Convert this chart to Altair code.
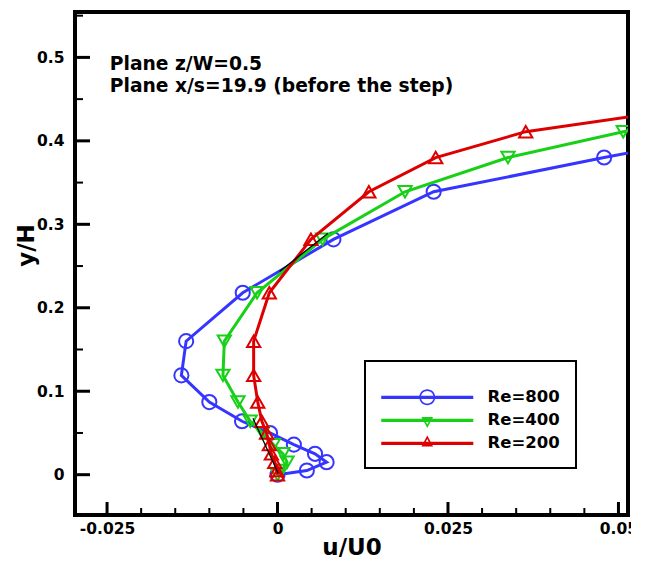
import altair as alt
import pandas as pd

# ---- profile data: u/U0 against y/H at the measurement stations ----
re800_u = [0.0, 0.0043, 0.0072, 0.0055, 0.0024, -0.0011, -0.0052, -0.0100, -0.0141,
           -0.0134, -0.0051, 0.0082, 0.0229, 0.0479, 0.0680]
re800_y = [0.0, 0.005, 0.015, 0.025, 0.036, 0.050, 0.064, 0.087, 0.119,
           0.160, 0.218, 0.282, 0.339, 0.380, 0.411]

re400_u = [0.0, 0.0006, 0.0014, 0.0008, -0.0006, -0.0022, -0.0040, -0.0058, -0.0080,
           -0.0078, -0.0030, 0.0066, 0.0187, 0.0338, 0.0507, 0.0690]
re400_y = [0.0, 0.005, 0.015, 0.025, 0.036, 0.050, 0.064, 0.087, 0.119,
           0.160, 0.218, 0.282, 0.339, 0.380, 0.411, 0.440]

re200_u = [0.0, -0.0001, -0.0004, -0.0009, -0.0012, -0.0016, -0.0023, -0.0029, -0.0035,
           -0.0035, -0.0012, 0.0049, 0.0134, 0.0232, 0.0364, 0.0613]
re200_y = [0.0, 0.005, 0.015, 0.025, 0.036, 0.050, 0.064, 0.087, 0.119,
           0.160, 0.218, 0.282, 0.339, 0.380, 0.411, 0.440]

# thin black trace segments
trace_u = [-0.0036, 0.0001, 0.0003, 0.0074]
trace_y = [0.0676, 0.0017, 0.2434, 0.2894]
trace_seg = [0, 0, 1, 1]

series_labels = ["Re=800", "Re=400", "Re=200"]
series_colors = ["#3535ff", "#17d017", "#dd0000"]
series_shapes = ["circle", "triangle-down", "triangle-up"]

# axis ticks
x_major = [-0.025, 0.0, 0.025, 0.05]
x_minor = [-0.02, -0.015, -0.01, -0.005, 0.005, 0.01, 0.015, 0.02,
           0.03, 0.035, 0.04, 0.045]
y_major = [0.0, 0.1, 0.2, 0.3, 0.4, 0.5]
y_minor = [0.05, 0.15, 0.25, 0.35, 0.45, 0.55]

note_lines = ["Plane z/W=0.5", "Plane x/s=19.9 (before the step)"]
note_u = [-0.0246, -0.0246]
note_y = [0.4844, 0.458]

FONT = "DejaVu Sans"
PLOT_W, PLOT_H = 553, 503

x_scale = alt.Scale(domain=[-0.0297, 0.0514], nice=False, zero=False)
y_scale = alt.Scale(domain=[-0.0483, 0.5544], nice=False, zero=False)

x_axis = alt.Axis(
    values=x_major, grid=False, ticks=False, domain=False,
    labelExpr="datum.value < 0 ? '-' + format(-datum.value, '~g') : format(datum.value, '~g')",
    labelFont=FONT, labelFontSize=15.5, labelFontWeight="bold", labelColor="black",
    labelPadding=6, labelFlush=False, labelOverlap=False,
    title="u/U0", titleFont=FONT, titleFontSize=23, titleFontWeight="bold",
    titleColor="black", titlePadding=0,
)
y_axis = alt.Axis(
    values=y_major, grid=False, ticks=False, domain=False,
    labelExpr="format(datum.value, '~g')",
    labelFont=FONT, labelFontSize=15.5, labelFontWeight="bold", labelColor="black",
    labelPadding=11, labelFlush=False, labelOverlap=False,
    title="y/H", titleFont=FONT, titleFontSize=23, titleFontWeight="bold",
    titleColor="black", titleX=-42, titleY=233, titleAngle=270,
    titleBaseline="alphabetic", titleAlign="center",
)

X = alt.X("u:Q", scale=x_scale, axis=x_axis)
Y = alt.Y("yh:Q", scale=y_scale, axis=y_axis)

series_u = [re800_u, re400_u, re200_u]
series_y = [re800_y, re400_y, re200_y]

frames = []
for lab, us, ys in zip(series_labels, series_u, series_y):
    frames.append(pd.DataFrame({"u": us, "yh": ys, "series": lab, "i": range(len(us))}))
profiles = pd.concat(frames, ignore_index=True)

layers = []

# inward tick marks along the bottom and left edges
xt = pd.DataFrame({"u": x_major})
xm = pd.DataFrame({"u": x_minor})
yt = pd.DataFrame({"yh": y_major})
ym = pd.DataFrame({"yh": y_minor})
layers.append(alt.Chart(xt).mark_rule(color="black", strokeWidth=3).encode(
    x=X, y=alt.value(PLOT_H), y2=alt.value(PLOT_H - 13)))
layers.append(alt.Chart(xm).mark_rule(color="black", strokeWidth=2).encode(
    x=X, y=alt.value(PLOT_H), y2=alt.value(PLOT_H - 7)))
layers.append(alt.Chart(yt).mark_rule(color="black", strokeWidth=3).encode(
    y=Y, x=alt.value(0), x2=alt.value(15)))
layers.append(alt.Chart(ym).mark_rule(color="black", strokeWidth=2, clip=True).encode(
    y=Y, x=alt.value(0), x2=alt.value(8)))

# profiles: lines then hollow markers, drawn Re=800 first
for lab, col, shp in zip(series_labels, series_colors, series_shapes):
    d = profiles[profiles["series"] == lab]
    layers.append(alt.Chart(d).mark_line(color=col, strokeWidth=3, clip=True).encode(
        x=X, y=Y, order="i:Q"))
    layers.append(alt.Chart(d).mark_point(
        shape=shp, size=200 if shp == "circle" else 175, filled=False,
        color=col, strokeWidth=2, opacity=1, clip=True).encode(x=X, y=Y))

trace = pd.DataFrame({"u": trace_u, "yh": trace_y, "seg": trace_seg, "i": range(len(trace_u))})
layers.append(alt.Chart(trace).mark_line(color="black", strokeWidth=1.3, clip=True).encode(
    x=X, y=Y, detail="seg:N", order="i:Q"))

# annotation text
notes = pd.DataFrame({"u": note_u, "yh": note_y, "txt": note_lines})
layers.append(alt.Chart(notes).mark_text(
    align="left", baseline="alphabetic", font=FONT, fontSize=18.7,
    fontWeight="bold", color="black").encode(x=X, y=Y, text="txt:N"))


# legend symbols: a line segment with a hollow marker, as filled ring paths
def poly(pts, dx):
    return "M" + "L".join(f"{x + dx:.3f},{y:.3f}" for x, y in pts) + "Z"


def ring(r, dx):
    return (f"M{r + dx:.3f},0A{r},{r} 0 1,1 {-r + dx:.3f},0A{r},{r} 0 1,1 {r + dx:.3f},0Z")


def ring_inner(r, dx):
    return (f"M{r + dx:.3f},0A{r},{r} 0 1,0 {-r + dx:.3f},0A{r},{r} 0 1,0 {r + dx:.3f},0Z")


SHIFT = 5.85
bar = poly([(-7.08, -0.25), (7.08, -0.25), (7.08, 0.25), (-7.08, 0.25)], SHIFT)
legend_paths = [
    bar + ring(1.23, SHIFT) + ring_inner(0.98, SHIFT),
    bar + poly([(-0.9, -0.5), (0.9, -0.5), (0, 1.2)], SHIFT)
        + poly([(-0.485, -0.25), (0, 0.666), (0.485, -0.25)], SHIFT),
    bar + poly([(0, -1.2), (0.9, 0.5), (-0.9, 0.5)], SHIFT)
        + poly([(0, -0.666), (-0.485, 0.25), (0.485, 0.25)], SHIFT),
]

leg = alt.Legend(
    title=" ", titleFontSize=6, titlePadding=6,
    orient="none", legendX=290, legendY=349,
    fillColor="white", strokeColor="black", padding=16,
    labelFont=FONT, labelFontSize=16.5, labelFontWeight="bold", labelColor="black",
    labelOffset=90, rowPadding=6, symbolSize=169, symbolStrokeWidth=0,
    symbolOpacity=1,
)
layers.append(alt.Chart(profiles).mark_point(filled=True, opacity=0, clip=True).encode(
    x=X, y=Y,
    color=alt.Color("series:N", scale=alt.Scale(domain=series_labels, range=series_colors), legend=leg),
    shape=alt.Shape("series:N", scale=alt.Scale(domain=series_labels, range=legend_paths), legend=leg),
))

chart = alt.layer(*layers).properties(
    width=PLOT_W, height=PLOT_H,
    autosize=alt.AutoSizeParams(type="none"),
    padding={"left": 75, "top": 12, "right": 3, "bottom": 60},
    background="white",
).configure_view(
    stroke="black", strokeWidth=4,
).configure_legend(
    strokeWidth=2,
)

chart.save("out.html", embed_options={"renderer": "svg", "actions": False})
